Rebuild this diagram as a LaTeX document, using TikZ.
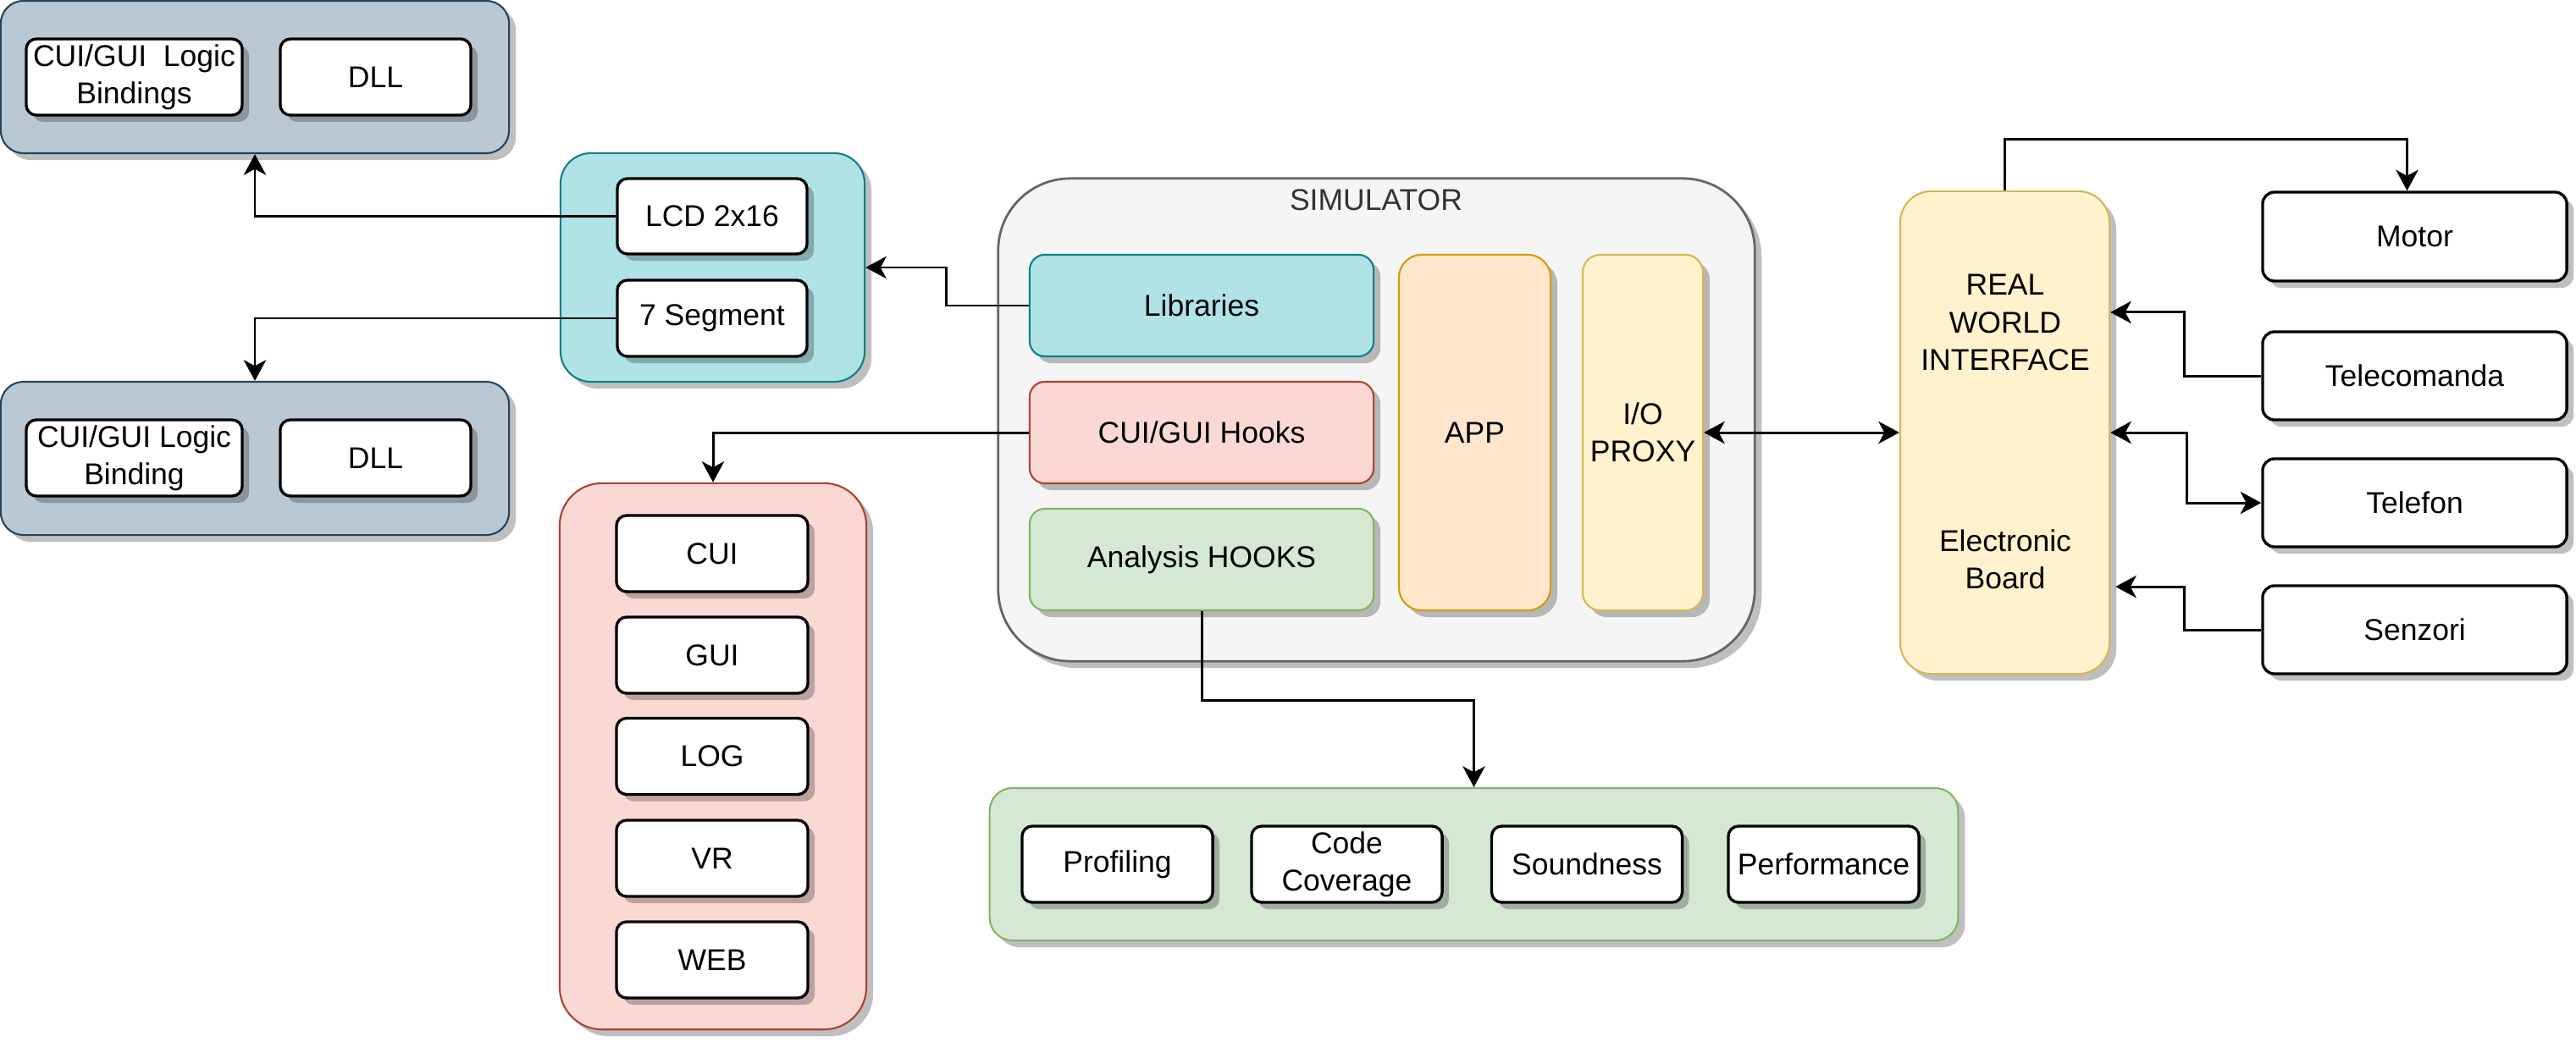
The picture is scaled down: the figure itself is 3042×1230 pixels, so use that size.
\documentclass[tikz,border=0pt]{standalone}
\usepackage{fontspec}
\setmainfont{Liberation Sans}
\usetikzlibrary{shadows,arrows.meta}
\definecolor{blueF}{HTML}{BAC8D3}\definecolor{blueD}{HTML}{23445D}
\definecolor{tealF}{HTML}{B0E3E6}\definecolor{tealD}{HTML}{0E8088}
\definecolor{redF}{HTML}{FAD9D5}\definecolor{redD}{HTML}{AE4132}
\definecolor{greenF}{HTML}{D5E8D4}\definecolor{greenD}{HTML}{82B366}
\definecolor{orangeF}{HTML}{FFE6CC}\definecolor{orangeD}{HTML}{D79B00}
\definecolor{yellowF}{HTML}{FFF2CC}\definecolor{yellowD}{HTML}{D6B656}
\definecolor{simF}{HTML}{F5F5F5}\definecolor{simD}{HTML}{666666}
\definecolor{simT}{HTML}{333333}
\tikzset{
  shad/.style={drop shadow={shadow xshift=0.08cm, shadow yshift=-0.08cm, fill=black, opacity=0.25}},
  box/.style={draw, shad, align=center, inner sep=0pt, font=\fontsize{10.1}{12.6}\selectfont},
  wbox/.style={box, fill=white, line width=0.95pt, rounded corners=0.12cm},
  grp/.style={box, line width=0.6pt},
  txt/.style={align=center, inner sep=0pt, font=\fontsize{10.1}{12.6}\selectfont},
  conn/.style={line width=0.85pt, -{Stealth[length=7pt,width=7.5pt,inset=2pt]}},
  conn2/.style={line width=0.85pt, {Stealth[length=7pt,width=7.5pt,inset=2pt]}-{Stealth[length=7pt,width=7.5pt,inset=2pt]}}
}
\begin{document}
\begin{tikzpicture}[x=0.01cm,y=-0.01cm]
\useasboundingbox (0,0) rectangle (3042,1230);

% top blue group
\node[grp, fill=blueF, draw=blueD, rounded corners=0.27cm, minimum width=6cm, minimum height=1.8cm] (g1) at (301,91) {};
\node[wbox, minimum width=2.55cm, minimum height=0.9cm] (g1a) at (158.5,91) {CUI/GUI\ \ Logic\\Bindings};
\node[wbox, minimum width=2.25cm, minimum height=0.9cm] (g1b) at (443.5,91) {DLL};

% bottom blue group
\node[grp, fill=blueF, draw=blueD, rounded corners=0.27cm, minimum width=6cm, minimum height=1.81cm] (g2) at (301,541.5) {};
\node[wbox, minimum width=2.55cm, minimum height=0.9cm] (g2a) at (158.5,541) {CUI/GUI Logic\\Binding};
\node[wbox, minimum width=2.25cm, minimum height=0.9cm] (g2b) at (443.5,541) {DLL};

% teal group
\node[grp, fill=tealF, draw=tealD, rounded corners=0.36cm, minimum width=3.59cm, minimum height=2.7cm] (teal) at (841.5,316) {};
\node[wbox, minimum width=2.24cm, minimum height=0.89cm] (lcd) at (841,255.5) {LCD 2x16};
\node[wbox, minimum width=2.24cm, minimum height=0.9cm] (seg) at (841,376) {7 Segment};

% red group
\node[grp, fill=redF, draw=redD, rounded corners=0.5cm, minimum width=3.62cm, minimum height=6.45cm] (red) at (842,893.5) {};
\node[wbox, minimum width=2.26cm, minimum height=0.9cm] (cui) at (841,654) {CUI};
\node[wbox, minimum width=2.26cm, minimum height=0.9cm] (gui) at (841,774) {GUI};
\node[wbox, minimum width=2.26cm, minimum height=0.9cm] (log) at (841,893.5) {LOG};
\node[wbox, minimum width=2.26cm, minimum height=0.9cm] (vr) at (841,1014) {VR};
\node[wbox, minimum width=2.26cm, minimum height=0.9cm] (web) at (841,1134) {WEB};

% simulator
\node[grp, fill=simF, draw=simD, line width=0.8pt, rounded corners=0.85cm, minimum width=8.93cm, minimum height=5.7cm] (sim) at (1625.5,496) {};
\node[txt, text=simT] (simlbl) at (1625,236) {SIMULATOR};
\node[grp, fill=tealF, draw=tealD, rounded corners=0.18cm, minimum width=4.06cm, minimum height=1.2cm] (lib) at (1419,361) {Libraries};
\node[grp, fill=redF, draw=redD, rounded corners=0.18cm, minimum width=4.06cm, minimum height=1.2cm] (hooks) at (1419,511) {CUI/GUI Hooks};
\node[grp, fill=greenF, draw=greenD, rounded corners=0.18cm, minimum width=4.06cm, minimum height=1.2cm] (ana) at (1419,661) {Analysis HOOKS};
\node[grp, fill=orangeF, draw=orangeD, rounded corners=0.27cm, minimum width=1.79cm, minimum height=4.2cm] (app) at (1741.5,511) {APP};
\node[grp, fill=yellowF, draw=yellowD, rounded corners=0.21cm, minimum width=1.42cm, minimum height=4.2cm] (io) at (1940,511) {I/O\\PROXY};

% green group
\node[grp, fill=greenF, draw=greenD, rounded corners=0.27cm, minimum width=11.43cm, minimum height=1.8cm] (green) at (1740.5,1021) {};
\node[wbox, minimum width=2.25cm, minimum height=0.9cm] (prof) at (1319.5,1021) {Profiling};
\node[wbox, minimum width=2.25cm, minimum height=0.9cm] (cov) at (1590.5,1021) {Code\\Coverage};
\node[wbox, minimum width=2.25cm, minimum height=0.9cm] (snd) at (1874,1021) {Soundness};
\node[wbox, minimum width=2.25cm, minimum height=0.9cm] (perf) at (2153.5,1021) {Performance};

% real world interface
\node[grp, fill=yellowF, draw=yellowD, rounded corners=0.37cm, minimum width=2.47cm, minimum height=5.7cm] (rwi) at (2367.5,511) {};
\node[txt] (rwiA) at (2368,381) {REAL\\WORLD\\INTERFACE};
\node[txt] (rwiB) at (2368,661) {Electronic\\Board};

% right devices
\node[wbox, rounded corners=0.14cm, minimum width=3.59cm, minimum height=1.05cm] (motor) at (2851.5,279.5) {Motor};
\node[wbox, rounded corners=0.14cm, minimum width=3.59cm, minimum height=1.04cm] (tele) at (2851.5,444) {Telecomanda};
\node[wbox, rounded corners=0.14cm, minimum width=3.59cm, minimum height=1.04cm] (telefon) at (2851.5,594) {Telefon};
\node[wbox, rounded corners=0.14cm, minimum width=3.59cm, minimum height=1.04cm] (senz) at (2851.5,744) {Senzori};

% connectors
\draw[conn] (lcd.west) -| (g1.south);
\draw[conn] (seg.west) -| (g2.north);
\draw[conn] (lib.west) -- ++(-97,0) |- (teal.east);
\draw[conn] (hooks.west) -| (red.north);
\draw[conn] (ana.south) -- ++(0,105) -| (green.north);
\draw[conn2] (io.east) -- (rwi.west);
\draw[conn] (rwi.north) -- ++(0,-60) -| ([xshift=-0.09cm]motor.north);
\draw[conn] (tele.west) -- ++(-91,0) |- ([yshift=1.42cm]rwi.east);
\draw[conn2] (rwi.east) -- ++(90,0) |- (telefon.west);
\draw[conn] (senz.west) -- ++(-91,0) |- ([xshift=0.06cm,yshift=-1.82cm]rwi.east);
\end{tikzpicture}
\end{document}
